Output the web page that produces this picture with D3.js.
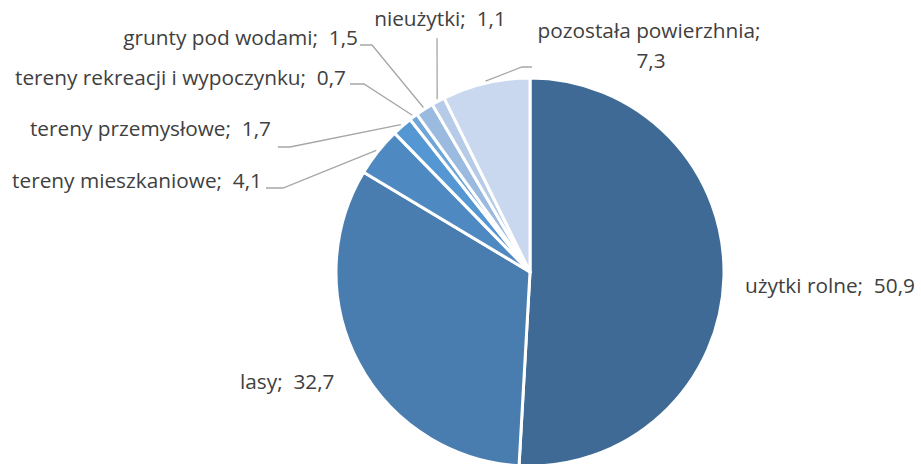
<!DOCTYPE html>
<html>
<head>
<meta charset="utf-8">
<script src="https://cdn.jsdelivr.net/npm/d3@7"></script>
<style>
  body { margin: 0; background: #fff; }
  text { font-family: "Open Sans", sans-serif; fill: #404040; white-space: pre; }
</style>
</head>
<body>
<div id="chart"></div>
<script>
// data
const categories = [
  'użytki rolne', 'lasy', 'tereny mieszkaniowe', 'tereny przemysłowe',
  'tereny rekreacji i wypoczynku', 'grunty pod wodami', 'nieużytki', 'pozostała powierzhnia'
];
const values = [50.9, 32.7, 4.1, 1.7, 0.7, 1.5, 1.1, 7.3];
const valueLabels = ['50,9', '32,7', '4,1', '1,7', '0,7', '1,5', '1,1', '7,3'];
const colors = ['#3e6a95', '#4a7daf', '#4f89c1', '#5597d2', '#6ea6da', '#9bbae0', '#b5cbe8', '#c9d8ee'];

const width = 921;
const height = 464;
const cx = 530, cy = 272;
const radius = 194;
const fontSize = 20.8;

const svg = d3.select('#chart')
  .append('svg')
  .attr('width', width)
  .attr('height', height);

const g = svg.append('g')
  .attr('transform', `translate(${cx}, ${cy})`);

const pie = d3.pie().value(d => d).sort(null);
const arc = d3.arc().innerRadius(0).outerRadius(radius);
const pieData = pie(values);

g.selectAll('path.slice')
  .data(pieData)
  .enter()
  .append('path')
  .attr('class', 'slice')
  .attr('d', arc)
  .attr('fill', (d, i) => colors[i])
  .attr('stroke', '#fff')
  .attr('stroke-width', 3)
  .attr('stroke-linejoin', 'round');

// label placement (page coordinates), leader goes through elbow points to the slice edge
const labelLayout = [
  { x: 745, y: 285, anchor: 'start', twoLines: false, leader: null },
  { x: 240, y: 381, anchor: 'start', twoLines: false, leader: null },
  { x: 262, y: 180, anchor: 'end', twoLines: false, leader: [[266, 188], [283, 188]] },
  { x: 271, y: 128, anchor: 'end', twoLines: false, leader: [[278, 147], [290, 147]] },
  { x: 346, y: 77, anchor: 'end', twoLines: false, leader: [[350, 84], [364, 84]] },
  { x: 358, y: 37, anchor: 'end', twoLines: false, leader: [[360, 45], [372, 45]] },
  { x: 440, y: 18, anchor: 'middle', twoLines: false, leader: [[437, 38]] },
  { x: 649, y: 30, anchor: 'middle', twoLines: true, leader: [[532, 67], [522, 67]] }
];

function edgePoint(d) {
  const a = (d.startAngle + d.endAngle) / 2;
  const r = radius + 2;
  return [cx + Math.sin(a) * r, cy - Math.cos(a) * r];
}

const line = d3.line();

pieData.forEach((d, i) => {
  const lay = labelLayout[i];
  if (lay.leader) {
    const pts = lay.leader.concat([edgePoint(d)]);
    svg.append('path')
      .attr('d', line(pts))
      .attr('fill', 'none')
      .attr('stroke', '#a6a6a6')
      .attr('stroke-width', 1.3);
  }
  const texts = lay.twoLines
    ? [categories[i] + ';', valueLabels[i]]
    : [`${categories[i]};  ${valueLabels[i]}`];
  texts.forEach((t, k) => {
    svg.append('text')
      .attr('x', lay.x + k * 2).attr('y', lay.y + k * 30)
      .attr('text-anchor', lay.anchor)
      .attr('dominant-baseline', 'central')
      .style('font-size', fontSize + 'px')
      .text(t);
  });
});
</script>
</body>
</html>
